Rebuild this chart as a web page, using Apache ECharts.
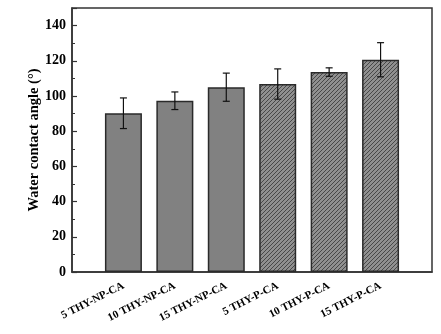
<!DOCTYPE html>
<html>
<head>
<meta charset="utf-8">
<script src="https://cdn.jsdelivr.net/npm/echarts@6/dist/echarts.min.js"></script>
<style>html,body{margin:0;padding:0;background:#fff}#c{width:441px;height:334px}</style>
</head>
<body>
<div id="c"></div>
<script>
const categories = ['5 THY-NP-CA','10 THY-NP-CA','15 THY-NP-CA','5 THY-P-CA','10 THY-P-CA','15 THY-P-CA'];
const values = [90.2, 97.3, 105.0, 106.8, 113.6, 120.6];
const errors = [8.7, 5.0, 8.0, 8.6, 2.4, 9.7];
const hatched = [false, false, false, true, true, true];
const yTicks = [0, 20, 40, 60, 80, 100, 120, 140];

// hatch pattern
const pc = document.createElement('canvas');
pc.width = 4; pc.height = 4;
const g = pc.getContext('2d');
g.fillStyle = '#909090'; g.fillRect(0,0,4,4);
g.strokeStyle = '#404040'; g.lineWidth = 0.9;
g.beginPath();
g.moveTo(-1,5); g.lineTo(5,-1);
g.moveTo(-1,1); g.lineTo(1,-1);
g.moveTo(3,5); g.lineTo(5,3);
g.stroke();

const font = '"Liberation Serif", "Times New Roman", serif';
const chart = echarts.init(document.getElementById('c'), null, {renderer:'canvas'});
const barData = values.map((v,i)=>({
  value:[i+1, v],
  itemStyle:{color: hatched[i] ? {image: pc, repeat:'repeat'} : '#818181'}
}));
const errData = values.map((v,i)=>[i+1, v-errors[i], v+errors[i]]);
chart.setOption({
  animation:false,
  grid:{left:72, right:9, top:8, bottom:62, show:true, borderColor:'#333', borderWidth:1.5, containLabel:false},
  xAxis:{
    type:'value', min:0, max:7, interval:1,
    axisLine:{show:true, lineStyle:{color:'#333', width:1.5}},
    axisTick:{show:false},
    splitLine:{show:false},
    axisLabel:{
      formatter:(v)=> categories[v-1] || '',
      rotate:27, margin:13, fontFamily:font, fontWeight:'bold', fontSize:11, color:'#000'
    }
  },
  yAxis:{
    type:'value', min:0, max:150, interval:20,
    name:'Water contact angle (°)', nameLocation:'middle', nameGap:30, nameMoveOverlap:false,
    nameTextStyle:{fontFamily:font, fontWeight:'bold', fontSize:14.5, color:'#000'},
    axisLine:{show:true, lineStyle:{color:'#333', width:1.5}},
    axisTick:{show:true, inside:true, length:5, lineStyle:{color:'#333', width:1.2}},
    minorTick:{show:true, splitNumber:2, length:3, lineStyle:{color:'#333', width:1}},
    splitLine:{show:false},
    axisLabel:{
      formatter:(v)=> yTicks.includes(v) ? String(v) : '',
      showMaxLabel:false, margin:6, fontFamily:font, fontWeight:'bold', fontSize:14, color:'#000'
    }
  },
  series:[
    {type:'bar', data:barData, barWidth:37,
     itemStyle:{borderColor:'#2a2a2a', borderWidth:1.5}},
    {type:'custom', data:errData, z:5,
     renderItem:(params, api)=>{
       const x = api.value(0);
       const lo = api.coord([x, api.value(1)]);
       const hi = api.coord([x, api.value(2)]);
       const w = 3.5;
       const st = {stroke:'#111', lineWidth:1.2};
       return {type:'group', children:[
         {type:'line', shape:{x1:lo[0], y1:lo[1], x2:hi[0], y2:hi[1]}, style:st},
         {type:'line', shape:{x1:lo[0]-w, y1:lo[1], x2:lo[0]+w, y2:lo[1]}, style:st},
         {type:'line', shape:{x1:hi[0]-w, y1:hi[1], x2:hi[0]+w, y2:hi[1]}, style:st}
       ]};
     }}
  ]
});
</script>
</body>
</html>
